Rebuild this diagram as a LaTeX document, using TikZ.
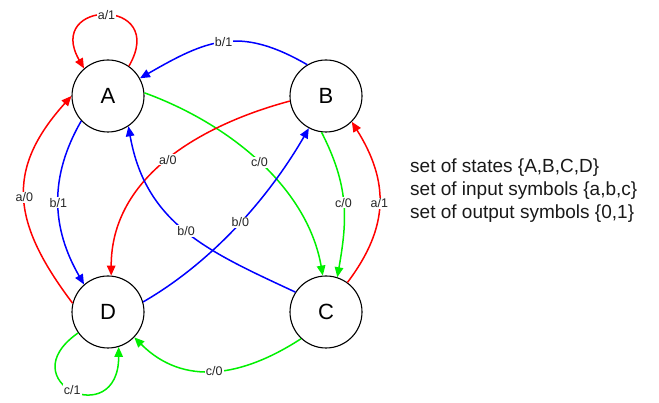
\documentclass[tikz,border=0pt]{standalone}
\usepackage{fontspec}
\setmainfont{Liberation Sans}
\usetikzlibrary{arrows.meta}
\definecolor{ered}{RGB}{255,0,0}
\definecolor{eblue}{RGB}{0,0,255}
\definecolor{egreen}{RGB}{0,240,0}
\begin{document}
\begin{tikzpicture}[x=1pt,y=1pt,
  state/.style={circle,draw=black,line width=1.1pt,minimum size=72pt,inner sep=0pt,
    font=\fontsize{22}{22}\selectfont},
  edge/.style={line width=1.5pt,-{Triangle[length=10pt,width=8.5pt]}},
  lbl/.style={fill=white,inner sep=1.2pt,text=black!85,font=\fontsize{12.5}{12.5}\selectfont}]
\path[use as bounding box] (0,0) rectangle (659,403);

% states
\node[state] (A) at (108,307) {A};
\node[state] (B) at (326,307) {B};
\node[state] (D) at (108,91) {D};
\node[state] (C) at (326,91) {C};

% transitions
\draw[edge,ered] (A.55) to[out=60,in=120,distance=80] node[lbl]{a/1} (A.131);
\draw[edge,eblue] (B.121) to[out=150,in=30,distance=78] node[lbl]{b/1} (A.29);
\draw[edge,egreen] (A.5) to[out=-20,in=100,distance=90] node[lbl]{c/0} (C.95);
\draw[edge,ered] (B.188) to[out=195,in=90,out distance=90,in distance=100] node[lbl]{a/0} (D.85);
\draw[edge,eblue] (A.223) to[out=240,in=120,distance=65] node[lbl]{b/1} (D.131);
\draw[edge,ered] (D.166) to[out=127,in=228,distance=100] node[lbl]{a/0} (A.180);
\draw[edge,eblue] (D.16) to[out=30,in=240,distance=80] node[lbl,pos=0.52]{b/0} (B.242);
\draw[edge,eblue] (C.147) to[out=155,in=280,out distance=95,in distance=100] node[lbl]{b/0} (A.304);
\draw[edge,egreen] (B.263) to[out=-63,in=80,distance=60] node[lbl]{c/0} (C.72);
\draw[edge,ered] (C.54) to[out=53,in=-58,distance=70] node[lbl]{a/1} (B.-45);
\draw[edge,egreen] (D.215) to[out=215,in=270,distance=85] node[lbl]{c/1} (D.287);
\draw[edge,egreen] (C.227) to[out=213,in=-45,distance=70] node[lbl]{c/0} (D.-44);

% description
\node[anchor=west,align=left,inner sep=0pt,font=\fontsize{19}{23}\selectfont,text=black!90]
  (info) at (410,212) {set of states \{A,B,C,D\}\\set of input symbols \{a,b,c\}\\set of output symbols \{0,1\}};
\end{tikzpicture}
\end{document}
